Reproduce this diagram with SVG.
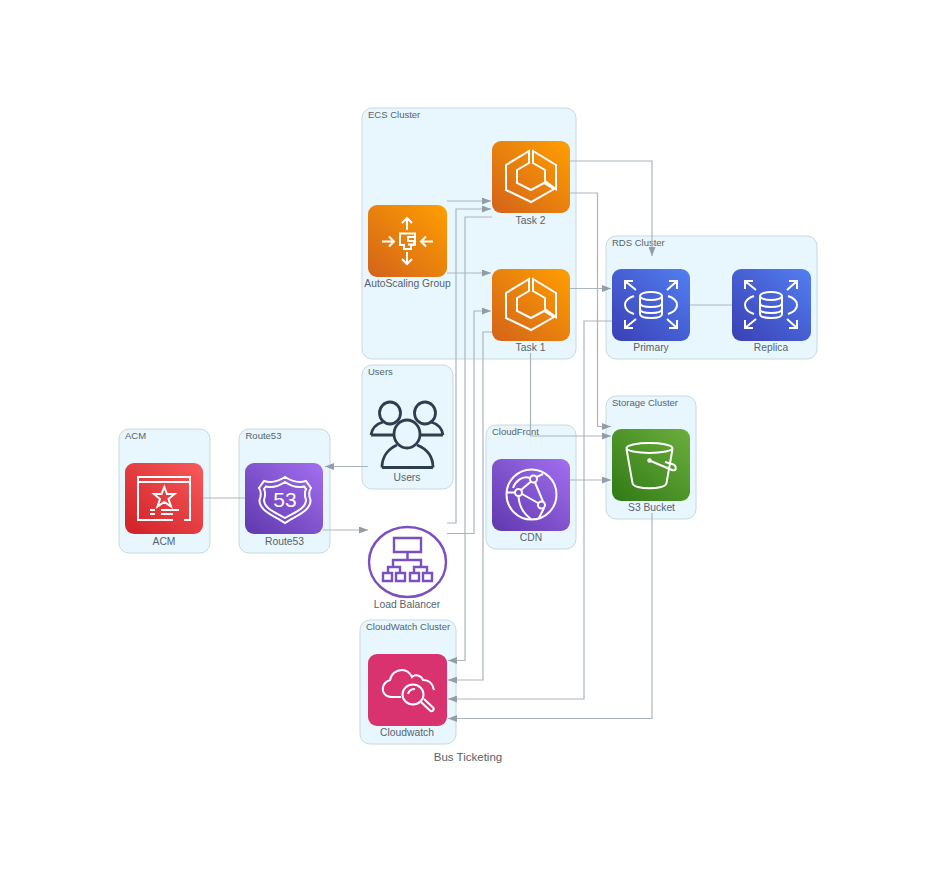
<svg xmlns="http://www.w3.org/2000/svg" width="936" height="870" viewBox="0 0 936 870">
<style>
.bg{fill:#fff}
.cl{fill:#e8f7fd;stroke:#c9d8e0;stroke-width:1}
.t{font-family:"Liberation Sans",Arial,sans-serif;font-size:10.300px;fill:#56626d}
.ct{font-size:9.500px}
.c{text-anchor:middle}
.e{fill:none;stroke:#aab6be;stroke-width:1.200}
.i{fill:none;stroke:#fff;stroke-width:2;stroke-linejoin:miter;stroke-linecap:butt}
.d{fill:none;stroke:#2f3e4e;stroke-width:2.800}
.l{fill:none;stroke:#7b4fc0;stroke-width:2.400}
.h{fill:#929ea7}
</style>
<defs>
<linearGradient id="go" x1="0" y1="1" x2="1" y2="0"><stop offset="0" stop-color="#d3631a"/><stop offset="1" stop-color="#ff9f00"/></linearGradient>
<linearGradient id="gb" x1="0" y1="1" x2="1" y2="0"><stop offset="0" stop-color="#3a3fb5"/><stop offset="1" stop-color="#527ff0"/></linearGradient>
<linearGradient id="gp" x1="0" y1="1" x2="1" y2="0"><stop offset="0" stop-color="#5f38ad"/><stop offset="1" stop-color="#a36ff0"/></linearGradient>
<linearGradient id="gg" x1="0" y1="1" x2="1" y2="0"><stop offset="0" stop-color="#2f7a14"/><stop offset="1" stop-color="#6cae3e"/></linearGradient>
<linearGradient id="gr" x1="0" y1="1" x2="1" y2="0"><stop offset="0" stop-color="#cf2027"/><stop offset="1" stop-color="#f85a5a"/></linearGradient>
<marker id="a" markerUnits="userSpaceOnUse" markerWidth="9" markerHeight="7" refX="9" refY="3.500" orient="auto"><path class="h" d="M0 0L9 3.500L0 7Z"/></marker>
<g id="ecs"><path class="i" d="M37 10L14 24V49L39 61L62 48L52 42L39 49L25 42V29L37 22ZM41 10L64 24V48L53 40V29L41 22Z"/></g>
<g id="rds"><ellipse class="i" cx="39" cy="27" rx="11" ry="4"/><path class="i" d="M28 27V45C28 48 34 49 39 49C44 49 50 48 50 45V27M28 34C28 37 34 38 39 38C44 38 50 37 50 34M28 40C28 43 34 44 39 44C44 44 50 43 50 40M22 27C10 31 10 41 22 45M56 27C68 31 68 41 56 45M24 21L13 12M13 20V12H21M55 21L65 12M65 20V12H57M24 50L13 59M13 51V59H21M55 50L65 59M65 51V59H57"/></g>
</defs>
<rect class="bg" width="936" height="870"/>
<g id="clusters">
<rect class="cl" x="362" y="108" width="214" height="251" rx="10"/><text class="t ct" x="368" y="118">ECS Cluster</text>
<rect class="cl" x="606" y="236" width="211" height="123" rx="10"/><text class="t ct" x="612" y="246">RDS Cluster</text>
<rect class="cl" x="606" y="396" width="90" height="123" rx="10"/><text class="t ct" x="612" y="406">Storage Cluster</text>
<rect class="cl" x="362" y="365" width="91" height="124" rx="10"/><text class="t ct" x="368" y="375">Users</text>
<rect class="cl" x="119" y="429" width="91" height="124" rx="10"/><text class="t ct" x="125" y="439">ACM</text>
<rect class="cl" x="239" y="429" width="91" height="124" rx="10"/><text class="t ct" x="245.500" y="439">Route53</text>
<rect class="cl" x="486" y="425" width="90" height="124" rx="10"/><text class="t ct" x="492" y="435">CloudFront</text>
<rect class="cl" x="360" y="620" width="96" height="124" rx="10"/><text class="t ct" x="366" y="630">CloudWatch Cluster</text>
</g>
<g id="connectors">
<path class="e" marker-end="url(#a)" d="M447 201H491"/>
<path class="e" marker-end="url(#a)" d="M447 273H491"/>
<path class="e" marker-end="url(#a)" d="M447 523H456V209H491"/>
<path class="e" marker-end="url(#a)" d="M447 533.500H474V311H491"/>
<path class="e" marker-end="url(#a)" d="M492 217H465V660.500H448"/>
<path class="e" marker-end="url(#a)" d="M492 332H483V680H448"/>
<path class="e" marker-end="url(#a)" d="M612 321H584V699H448"/>
<path class="e" marker-end="url(#a)" d="M652 513V718.500H448"/>
<path class="e" marker-end="url(#a)" d="M570 161H652V256"/>
<path class="e" marker-end="url(#a)" d="M570 193H597.500V426.500H611"/>
<path class="e" marker-end="url(#a)" d="M570 288.500H611"/>
<path class="e" marker-end="url(#a)" d="M530.500 353V436H611"/>
<path class="e" marker-end="url(#a)" d="M570 480H611"/>
<path class="e" d="M690 305H732"/>
<path class="e" d="M203 498H245"/>
<path class="e" marker-end="url(#a)" d="M368 466.500H325"/>
<path class="e" marker-end="url(#a)" d="M323 530H368"/>
</g>
<g id="task2"><rect x="492" y="141" width="78" height="72" rx="9" fill="url(#go)"/><use href="#ecs" x="492" y="141"/><text class="t c" x="530.500" y="224">Task 2</text></g>
<g id="task1"><rect x="492" y="269" width="78" height="72" rx="9" fill="url(#go)"/><use href="#ecs" x="492" y="269"/><text class="t c" x="530.500" y="351">Task 1</text></g>
<g id="autoscaling"><rect x="368" y="205" width="79" height="72" rx="9" fill="url(#go)"/>
<path class="i" d="M407 218V230M402 223L407 218L412 223M407 252V264M402 259L407 264L412 259M382 241.500H394M389 236.500L394 241.500L389 246.500M433 241.500H421M426 236.500L421 241.500L426 246.500M400 233.500H415V245H411V249H404V245H400ZM414 237H408V241H414V244.500H408"/>
<text class="t c" x="407.500" y="287">AutoScaling Group</text></g>
<g id="primary"><rect x="612" y="269" width="78" height="72" rx="9" fill="url(#gb)"/><use href="#rds" x="612" y="269"/><text class="t c" x="651" y="351">Primary</text></g>
<g id="replica"><rect x="732" y="269" width="79" height="72" rx="9" fill="url(#gb)"/><use href="#rds" x="732" y="269"/><text class="t c" x="771" y="351">Replica</text></g>
<g id="s3"><rect x="612" y="429" width="78" height="72" rx="9" fill="url(#gg)"/>
<ellipse class="i" cx="649.500" cy="448" rx="23" ry="5"/><path class="i" d="M626.500 449L632.500 483C633 490 666 490 666.500 483L672.500 449M649.500 460.500L672 470C677 472 677 465 672 464L665 462"/><circle cx="649.500" cy="460.500" r="2.200" fill="#fff"/>
<text class="t c" x="651.500" y="511">S3 Bucket</text></g>
<g id="cdn"><rect x="492" y="459" width="78" height="72" rx="9" fill="url(#gp)"/>
<circle class="i" cx="531.500" cy="494.500" r="25"/><circle class="i" cx="518.500" cy="492.500" r="3.500"/><circle class="i" cx="533.500" cy="479" r="3.500"/><circle class="i" cx="541.500" cy="505" r="3.500"/>
<path class="i" d="M521 490L531 481.500M522 494L538 503M535 482.500L543 501.500M515 492.500H507M530 478C522 475 515 482 513 488M518.500 496C519 506 524 514 531 519M544 508L539 518M536.500 477L543 474"/>
<text class="t c" x="531" y="541">CDN</text></g>
<g id="acm"><rect x="125" y="463" width="78" height="71" rx="9" fill="url(#gr)"/>
<path class="i" d="M173 520H138V477H190V520H184M138 482H190M164.300 487L167 494H174.500L168.500 499L171 506.500L164.300 502L157.500 506.500L160 499L154 494H161.500ZM150 510H155M161 510H179M150 514H155M161 514H173"/>
<text class="t c" x="164" y="545">ACM</text></g>
<g id="route53"><rect x="245" y="463" width="78" height="71" rx="9" fill="url(#gp)"/>
<path class="i" d="M285 477C279 481 271 483 264 481L259 488C262 492 261 496 259.500 500C259 511 275 516 285 523C295 516 311 511 310.500 500C309 496 308 492 311 488L306 481C299 483 291 481 285 477Z"/>
<path class="i" d="M285 482C279 486 272 488 266 486.500L264 489C266 493 265 497 264 500C264 509 277 513 285 518C293 513 306 509 306 500C305 497 304 493 306 489L304 486.500C298 488 291 486 285 482Z"/>
<text x="285" y="507" font-family="Liberation Sans,Arial,sans-serif" font-size="21" fill="#fff" text-anchor="middle">53</text>
<text class="t c" x="284.500" y="545">Route53</text></g>
<g id="users">
<ellipse class="d" cx="390" cy="413" rx="10.500" ry="11"/><ellipse class="d" cx="425" cy="413" rx="10.500" ry="11"/>
<path class="d" d="M371 435C372 428 376 424 383 422M443 435C442 428 438 424 431 422M371 435H393M443 435H421"/>
<ellipse fill="#e8f7fd" stroke="#2f3e4e" stroke-width="2.800" cx="407" cy="434" rx="13" ry="14"/>
<path class="d" d="M382 467.500C382 457 388 449 397 445M433 467.500C433 457 427 449 417 445M382 467.500H433"/>
<text class="t c" x="407" y="481">Users</text></g>
<g id="loadbalancer">
<ellipse class="l" cx="407.500" cy="562" rx="38.500" ry="35"/>
<path class="l" d="M394 538H421V552H394ZM407.500 552V560M393 567V560H421V567M388 573V567H400V573M414 573V567H427V573M383 573H392V581H383ZM396 573H405V581H396ZM410 573H419V581H410ZM423 573H432V581H423Z"/>
<text class="t c" x="407" y="608">Load Balancer</text></g>
<g id="cloudwatch"><rect x="368" y="654" width="79" height="72" rx="9" fill="#d9336f"/>
<path class="i" d="M401 697H392C385 697 382 692 383 687C384 683 387 681 390 680C391 674 396 670 402 670C406 670 410 673 412 677C415 674 421 675 423 680C429 680 433 684 434 690"/>
<ellipse class="i" cx="413" cy="694.500" rx="10.500" ry="10"/><path class="i" d="M408 694C409 690 412 689 415 689M421 702L430 710.500C432 712.500 435 709.500 433 707.500L424 699"/>
<text class="t c" x="407" y="736">Cloudwatch</text></g>
<text class="t c" x="468" y="761" style="font-size:11.500px">Bus Ticketing</text>
</svg>
